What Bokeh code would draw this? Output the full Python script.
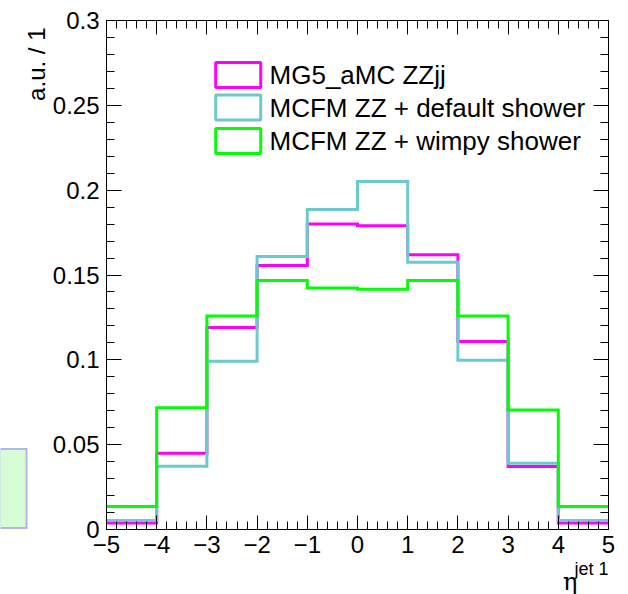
import numpy as np
from bokeh.plotting import figure
from bokeh.models import (Range1d, LinearAxis, FixedTicker, Title, ColumnDataSource)
from bokeh.core.properties import value
from bokeh.embed import file_html
from bokeh.resources import INLINE

# ---------------- data ----------------
bin_edges = [-5, -4, -3, -2, -1, 0, 1, 2, 3, 4, 5]
mg5_zzjj = [0.0038, 0.0450, 0.1190, 0.1556, 0.1801, 0.1791, 0.1620, 0.1108, 0.0371, 0.0039]
mcfm_default = [0.0053, 0.0373, 0.0992, 0.1609, 0.1886, 0.2051, 0.1575, 0.0998, 0.0390, 0.0053]
mcfm_wimpy = [0.0135, 0.0717, 0.1259, 0.1467, 0.1424, 0.1416, 0.1467, 0.1259, 0.0705, 0.0135]

series_names = ["MG5_aMC ZZjj", "MCFM ZZ + default shower", "MCFM ZZ + wimpy shower"]
series_colors = ["#ff00ff", "#6ccace", "#00ff00"]

x_ticks = [-5, -4, -3, -2, -1, 0, 1, 2, 3, 4, 5]
x_tick_labels = ["\u22125", "\u22124", "\u22123", "\u22122", "\u22121", "0", "1", "2", "3", "4", "5"]
y_ticks = [0.0, 0.05, 0.1, 0.15, 0.2, 0.25, 0.3]
y_tick_labels = ["0", "0.05", "0.1", "0.15", "0.2", "0.25", "0.3"]

FONT = "Liberation Sans"

p = figure(width=628, height=594, output_backend="svg", toolbar_location=None,
           x_range=Range1d(-5, 5), y_range=Range1d(0, 0.3),
           min_border_left=103, min_border_right=20, min_border_top=20, min_border_bottom=65,
           x_axis_location=None, y_axis_location=None)
p.xgrid.visible = False
p.ygrid.visible = False
p.outline_line_color = "black"
p.outline_line_width = 1
p.background_fill_color = "white"
p.border_fill_color = "white"

x_minor = [round(v, 2) for v in np.arange(-5, 5.0001, 0.2)]
y_minor = [round(v, 3) for v in np.arange(0, 0.3001, 0.01)]


def make_axis(ticks, minor, labels, show_labels, tick_in, minor_in):
    ax = LinearAxis(ticker=FixedTicker(ticks=ticks, minor_ticks=minor))
    ax.axis_line_color = "black"
    ax.major_tick_line_color = "black"
    ax.minor_tick_line_color = "black"
    ax.major_tick_in = tick_in
    ax.major_tick_out = 0
    ax.minor_tick_in = minor_in
    ax.minor_tick_out = 0
    if show_labels:
        ax.major_label_overrides = {t: l for t, l in zip(ticks, labels)}
        ax.major_label_text_font = FONT
        ax.major_label_text_font_size = "24px"
        ax.major_label_text_color = "black"
    else:
        ax.major_label_overrides = {t: "" for t in ticks}
        ax.major_label_text_font_size = "1px"
        ax.major_label_standoff = 0
    return ax


bottom = make_axis(x_ticks, x_minor, x_tick_labels, True, 14, 8)
bottom.major_label_standoff = 6
top = make_axis(x_ticks, x_minor, x_tick_labels, False, 14, 8)
left = make_axis(y_ticks, y_minor, y_tick_labels, True, 15, 8)
left.major_label_standoff = 7
right = make_axis(y_ticks, y_minor, y_tick_labels, False, 15, 8)
p.add_layout(bottom, "below")
p.add_layout(top, "above")
p.add_layout(left, "left")
p.add_layout(right, "right")

# ---------------- histograms ----------------
for vals, col in zip([mg5_zzjj, mcfm_default, mcfm_wimpy], series_colors):
    ys = list(vals) + [vals[-1]]
    p.step(x=bin_edges, y=ys, mode="after", line_color=col, line_width=3,
           line_join="miter")

# ---------------- legend ----------------
leg_box_x = -2.376
leg_text_x = -1.752
leg_rows_y = [0.2679, 0.2487, 0.2290]
src = ColumnDataSource(dict(x=[leg_box_x] * 3, tx=[leg_text_x] * 3, y=leg_rows_y,
                            name=series_names, color=series_colors))
p.rect(x="x", y="y", width=45, height=25, width_units="screen", height_units="screen",
       fill_alpha=0, line_color="color", line_width=3, source=src)
p.text(x="tx", y="y", text="name", text_font=value(FONT), text_font_size="26px",
       text_baseline="middle", text_align="left", text_color="black", source=src)

# ---------------- axis titles ----------------
p.add_layout(Title(text="a.u. / 1", align="right", offset=7, standoff=0,
                   text_font=FONT, text_font_size="24px", text_font_style="normal",
                   text_color="black"), "left")
p.add_layout(Title(text="jet 1", align="right", offset=0, standoff=3,
                   text_font=FONT, text_font_size="18px", text_font_style="normal",
                   text_color="black"), "below")
p.add_layout(Title(text="\u03b7", align="right", offset=31, standoff=-30,
                   text_font="DejaVu Serif", text_font_size="24px", text_font_style="normal",
                   text_color="black"), "below")

# partial (cut-off) box at the left edge, drawn as one thick tick of an extra axis
box_center = [0.02445]
box_axis = LinearAxis(ticker=FixedTicker(ticks=box_center, minor_ticks=box_center))
box_axis.axis_line_color = None
box_axis.major_tick_line_color = "#b4b4ec"
box_axis.major_tick_line_width = 81
box_axis.major_tick_out = 20
box_axis.major_tick_in = 7
box_axis.minor_tick_line_color = "#d8fcd6"
box_axis.minor_tick_line_width = 77
box_axis.minor_tick_out = 20
box_axis.minor_tick_in = 5
box_axis.major_label_overrides = {box_center[0]: ""}
box_axis.major_label_text_font_size = "1px"
box_axis.major_label_standoff = 0
p.add_layout(box_axis, "left")

open("out.html", "w").write(file_html(p, INLINE))
